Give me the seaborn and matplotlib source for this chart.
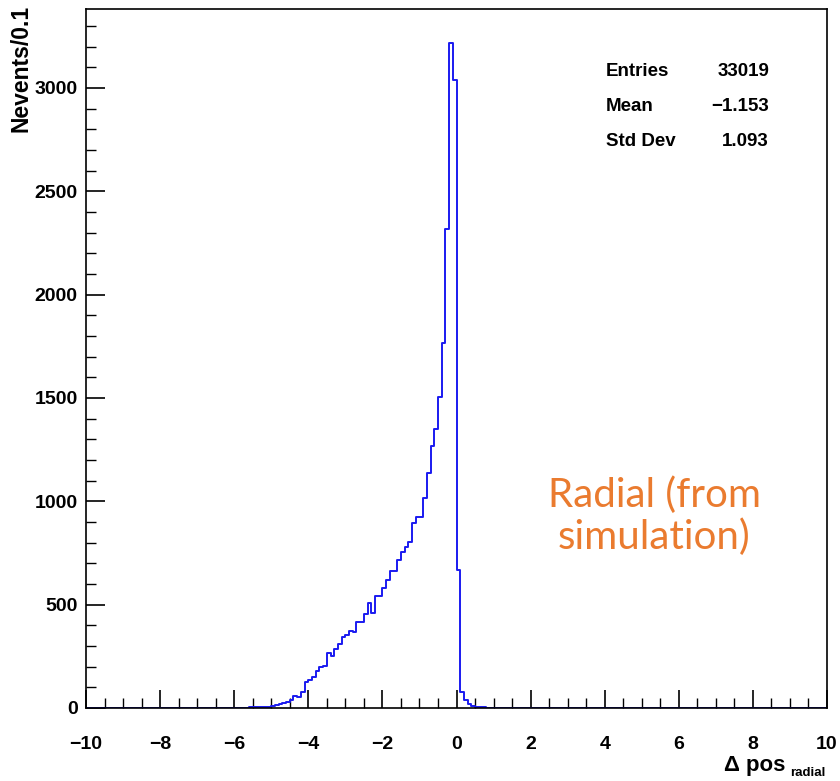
import numpy as np
import pandas as pd
import matplotlib
matplotlib.use("Agg")
import matplotlib.pyplot as plt
import seaborn as sns

# ---- data ----
bin_width = 0.1
x_range = (-10.0, 10.0)
first_bin_low = -6.0
counts = [
    1, 1, 2, 2, 3,                                        # -6.0 .. -5.6
    3, 4, 4, 5, 6, 8,                                     # -5.5 .. -5.0
    13, 19, 22, 31, 39, 58, 52, 76, 126,                  # -4.9 .. -4.1
    135, 151, 180, 196, 203, 268, 252, 284, 310, 345,     # -4.0 .. -3.1
    353, 374, 369, 414, 417, 455, 509, 461, 542, 542,     # -3.0 .. -2.1
    582, 619, 664, 664, 716, 756, 780, 805, 894, 926,     # -2.0 .. -1.1
    926, 1015, 1137, 1268, 1350, 1506, 1766, 2318, 3219, 3039,  # -1.0 .. -0.1
    668, 79, 38, 18, 9, 6, 4, 3, 2, 2,                    # 0.0 .. 0.9
    1,                                                    # 1.0
]
stats_labels = ["Entries", "Mean", "Std Dev"]
stats_values = ["33019", "\u22121.153", "1.093"]
y_ticks = [0, 500, 1000, 1500, 2000, 2500, 3000]
x_ticks = [-10, -8, -6, -4, -2, 0, 2, 4, 6, 8, 10]
annotation = "Radial (from\nsimulation)"

# ---- build histogram table ----
edges = np.round(np.arange(x_range[0], x_range[1] + bin_width / 2, bin_width), 2)
centers = (edges[:-1] + edges[1:]) / 2
full_counts = np.zeros(len(centers))
start = int(round((first_bin_low - x_range[0]) / bin_width))
full_counts[start:start + len(counts)] = counts
df = pd.DataFrame({"x": centers, "n": full_counts})

sns.set_theme(style="white")
plt.rcParams["font.family"] = ["Liberation Sans", "DejaVu Sans"]
plt.rcParams["font.weight"] = "bold"
plt.rcParams["text.color"] = "black"
plt.rcParams["xtick.color"] = "black"
plt.rcParams["ytick.color"] = "black"
plt.rcParams["xtick.labelcolor"] = "black"
plt.rcParams["ytick.labelcolor"] = "black"

W, H = 840, 781
fig = plt.figure(figsize=(W / 100, H / 100), dpi=100)
ax = fig.add_axes([86 / W, 1 - 708 / H, (827 - 86) / W, (708 - 9) / H])

sns.histplot(data=df, x="x", weights="n", binwidth=bin_width, binrange=x_range,
             element="step", fill=False, color="#1a1af0", linewidth=1.4, ax=ax)

ax.set_xlim(*x_range)
ax.set_ylim(0, 3382)
ax.set_xticks(x_ticks)
ax.set_yticks(y_ticks)
ax.xaxis.set_minor_locator(matplotlib.ticker.MultipleLocator(0.5))
ax.yaxis.set_minor_locator(matplotlib.ticker.MultipleLocator(100))
ax.set_xticklabels([f"{t}".replace("-", "\u2212") for t in x_ticks],
                   fontsize=14, fontweight="bold", color="black")
ax.set_yticklabels([str(t) for t in y_ticks], fontsize=14, fontweight="bold",
                   color="black")
ax.tick_params(axis="x", which="major", direction="in", length=13, width=1.2,
               pad=20, colors="black", top=False, bottom=True)
ax.tick_params(axis="x", which="minor", direction="in", length=7, width=1.0,
               top=False, bottom=True, colors="black")
ax.tick_params(axis="y", which="major", direction="in", length=14, width=1.2,
               pad=6, colors="black", left=True, right=False)
ax.tick_params(axis="y", which="minor", direction="in", length=7, width=1.0,
               left=True, right=False, colors="black")
for s in ax.spines.values():
    s.set_color("black")
    s.set_linewidth(1.2)
    s.set_visible(True)
    s.set_zorder(3)
ax.set_xlabel("")
ax.set_ylabel("")
ax.grid(False)

def px(x, y):
    return x / W, 1 - y / H

# axis titles
fig.text(*px(21, 5), "Nevents/0.1", rotation=90, ha="center", va="top",
         fontsize=16.5, fontweight="bold", color="black")
fig.text(*px(785, 766), "\u0394 pos", ha="right", va="center",
         fontsize=16, fontweight="bold", color="black")
fig.text(*px(790, 773), "radial", ha="left", va="center",
         fontsize=9.5, fontweight="bold", color="black")

# stats box
for i, (lab, val) in enumerate(zip(stats_labels, stats_values)):
    y = 71 + i * 35.5
    fig.text(*px(606, y), lab, ha="left", va="center", fontsize=13.5,
             fontweight="bold", color="black")
    fig.text(*px(769, y), val, ha="right", va="center", fontsize=13.5,
             fontweight="bold", color="black")

# annotation
fig.text(*px(654, 516), annotation, ha="center", va="center", fontsize=29,
         color="#ea7b2f", family=["Lato", "DejaVu Sans"], fontweight="normal",
         linespacing=1.15)

fig.savefig("out.png", dpi=100, facecolor="white")
